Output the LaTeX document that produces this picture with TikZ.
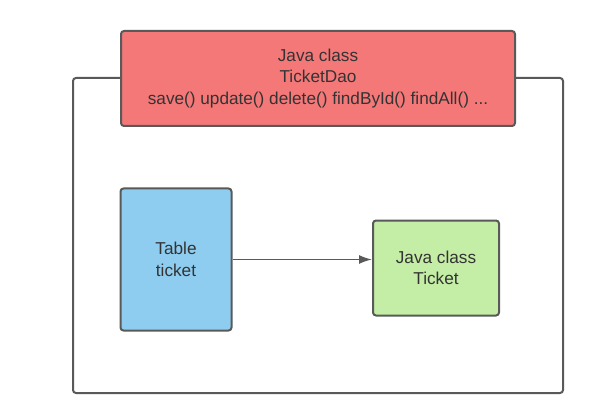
\documentclass[tikz,border=0pt]{standalone}
\usepackage{fontspec}
\setmainfont{Liberation Sans}
\usetikzlibrary{arrows.meta}
\definecolor{daored}{HTML}{F47878}
\definecolor{tableblue}{HTML}{8ECDF0}
\definecolor{pojogreen}{HTML}{C4EDA5}
\definecolor{edgegray}{HTML}{595959}
\definecolor{txtgray}{HTML}{333333}
\begin{document}
\begin{tikzpicture}[x=1pt,y=-1pt]
        \tikzset{b/.style={draw=edgegray, line width=2pt, rounded corners=3pt, inner sep=0pt,
            align=center, text=txtgray, font=\fontsize{17.2}{21.5}\selectfont}}
        \useasboundingbox (0,0) rectangle (610,406);
        \draw node[b, minimum width=490pt, minimum height=315pt] (frame) at (318,235.5) {};
        \draw node[b, fill=daored, minimum width=394pt, minimum height=95pt] (dao) at (318,78.5)
            {Java class\\TicketDao\\save() update() delete() findById() findAll() ...};
        \draw node[b, fill=tableblue, minimum width=111pt, minimum height=142pt] (table) at (176,259.5)
            {Table\\ticket};
        \draw node[b, fill=pojogreen, minimum width=126pt, minimum height=95pt] (ticket) at (436,268)
            {Java class\\Ticket};

        \draw[edgegray, line width=1.6pt, -{Latex[length=13pt,width=9pt]}] (table.east) -- (table.east -| ticket.west);
    \end{tikzpicture}
\end{document}
